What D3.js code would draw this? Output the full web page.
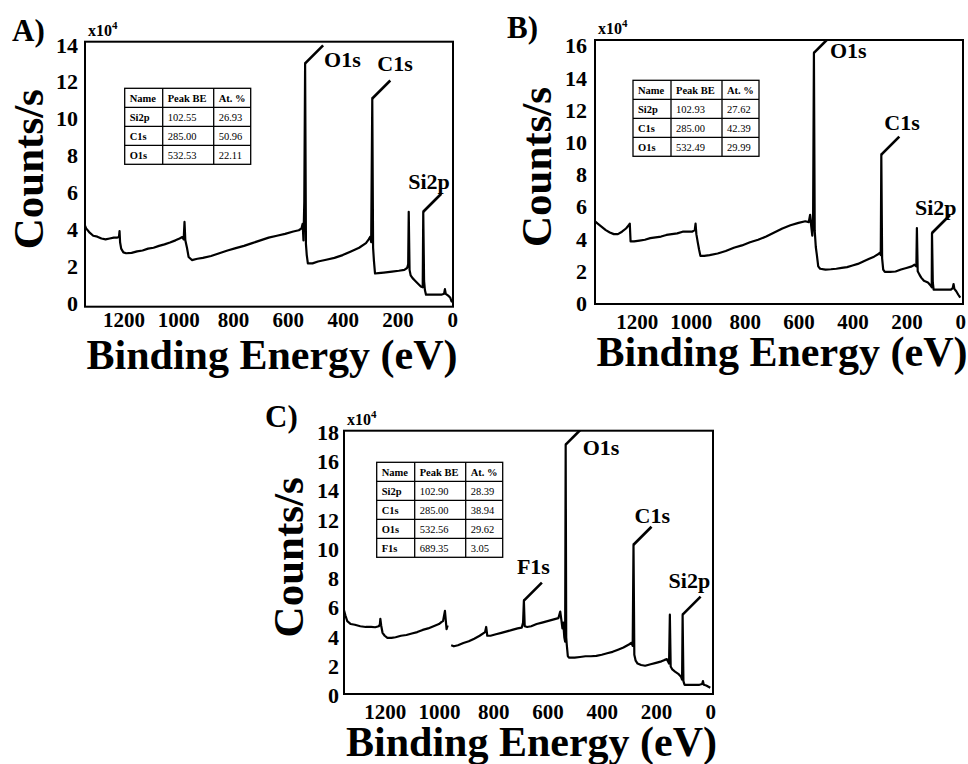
<!DOCTYPE html>
<meta charset="utf-8">
<head>
<style>
  body { margin: 0; background: #fff; }
  svg text { font-family: "Liberation Serif", "Times New Roman", serif; font-weight: bold; fill: #000; }
  .frame { fill: none; stroke: #000; stroke-width: 2; }
  .spectrum { fill: none; stroke: #000; stroke-width: 2.2; stroke-linejoin: round; }
  .leader { stroke: #000; stroke-width: 2.6; }
  .tbl line, .tbl rect { stroke: #000; stroke-width: 1.3; fill: none; }
  .tbl text.val { font-weight: normal; }
</style>
</head>
<body>
<div id="chart"></div>
<script src="https://d3js.org/d3.v7.min.js"></script>
<script>
// ---- data (counts in units of 10^4 counts/s, energy in eV) ----
var energyTicks = [1200, 1000, 800, 600, 400, 200, 0];
var countTicksA = [0, 2, 4, 6, 8, 10, 12, 14];
var countTicksB = [0, 2, 4, 6, 8, 10, 12, 14, 16];
var countTicksC = [0, 2, 4, 6, 8, 10, 12, 14, 16, 18];

var spectrumA = [[1340,4.2],[1336,4.05],[1325,3.85],[1310,3.65],[1295,3.6],[1280,3.5],[1265,3.45],[1250,3.5],
  [1235,3.55],[1222,3.55],[1216,3.6],[1214,3.9],[1212,3.3],[1208,2.95],[1200,2.75],[1190,2.7],[1170,2.72],
  [1150,2.8],[1130,2.85],[1110,2.95],[1090,3.0],[1070,3.1],[1050,3.18],[1030,3.28],[1010,3.4],[995,3.5],
  [985,3.58],[980,3.45],[977,4.4],[974,3.4],[968,3.0],[962,2.5],[950,2.33],[930,2.4],[910,2.45],[880,2.55],
  [850,2.7],[820,2.85],[790,2.98],[760,3.1],[730,3.25],[700,3.4],[670,3.55],[640,3.65],[610,3.75],[580,3.88],
  [560,3.95],[550,4.05],[546,4.3],[543,3.4],[540,5.5],[537,13.0],[534,3.2],[531,2.6],[527,2.15],[510,2.15],
  [490,2.25],[460,2.35],[430,2.45],[400,2.6],[370,2.8],[340,3.0],[315,3.25],[305,3.45],[299,3.6],[296,3.3],
  [292,11.1],[289,3.0],[286,2.3],[282,1.6],[270,1.62],[250,1.65],[220,1.7],[195,1.75],[175,1.8],[165,1.9],
  [161,2.1],[159,4.95],[156,1.8],[152,1.5],[145,1.35],[135,1.2],[125,1.05],[115,0.9],[108,0.85],[106,4.95],
  [103,1.2],[100,0.7],[96,0.45],[80,0.45],[60,0.45],[40,0.45],[30,0.5],[27,0.75],[24,0.5],[15,0.4],[8,0.3],
  [3,0.1],[0,0.05]];

var spectrumB = [[1355,5.1],[1345,4.95],[1330,4.75],[1315,4.55],[1300,4.4],[1285,4.3],[1270,4.3],[1255,4.45],
  [1240,4.65],[1230,4.85],[1226,4.95],[1223,3.85],[1210,3.85],[1190,3.9],[1170,3.95],[1150,4.05],[1130,4.1],
  [1110,4.15],[1090,4.25],[1070,4.3],[1050,4.35],[1030,4.45],[1010,4.45],[995,4.45],[985,4.55],[982,4.95],
  [979,4.3],[974,3.8],[969,3.35],[964,2.95],[950,2.95],[930,3.0],[900,3.1],[870,3.25],[840,3.45],[810,3.6],
  [780,3.8],[750,3.95],[720,4.15],[690,4.4],[660,4.65],[630,4.85],[600,5.0],[575,5.1],[562,5.05],[557,5.5],
  [553,4.8],[549,4.2],[546,5.5],[543,15.56],[540,4.5],[536,3.5],[532,3.0],[527,2.3],[520,2.15],[500,2.1],
  [480,2.12],[460,2.15],[440,2.2],[420,2.25],[400,2.35],[380,2.45],[360,2.6],[340,2.75],[320,2.9],[305,3.05],
  [298,3.15],[295,3.0],[293,9.24],[290,2.8],[286,2.1],[280,1.95],[260,1.95],[240,1.98],[220,2.1],[200,2.2],
  [180,2.3],[170,2.4],[163,2.3],[161,4.68],[158,2.0],[152,1.8],[145,1.6],[135,1.4],[120,1.3],[110,1.1],
  [106,1.0],[105,4.37],[102,1.3],[99,0.85],[90,0.85],[70,0.85],[50,0.85],[35,0.85],[28,0.95],[25,1.2],
  [22,0.9],[15,0.75],[8,0.55],[2,0.4],[0,0.35]];

var spectrumC = [[1351,5.9],[1345,5.5],[1338,5.1],[1325,4.9],[1310,4.85],[1290,4.75],[1270,4.7],[1250,4.7],
  [1235,4.68],[1222,4.75],[1218,4.85],[1216,5.25],[1213,4.8],[1208,4.3],[1200,4.1],[1190,3.95],[1175,3.95],
  [1160,4.0],[1140,4.1],[1120,4.15],[1100,4.25],[1080,4.35],[1060,4.5],[1040,4.6],[1020,4.75],[1000,4.9],
  [990,5.05],[985,5.1],[978,5.8],[972,4.55],[968,4.8],[962,null],
  [955,3.45],[945,3.38],[930,3.45],[910,3.6],[890,3.72],[870,3.9],[850,4.1],[830,4.35],[826,4.7],[822,4.1],
  [810,4.1],[790,4.2],[770,4.3],[750,4.4],[730,4.5],[710,4.6],[695,4.65],[690,5.0],[687,6.5],[684,4.75],
  [675,4.7],[660,4.75],[640,4.9],[620,5.0],[600,5.1],[580,5.2],[560,5.3],[553,5.75],[549,5.2],[545,4.6],
  [542,5.0],[538,4.0],[535,3.7],[533,17.16],[531,4.0],[529,3.5],[525,2.7],[520,2.6],[500,2.6],[480,2.65],
  [460,2.7],[440,2.7],[420,2.72],[400,2.8],[380,2.9],[360,3.0],[340,3.15],[320,3.3],[300,3.5],[290,3.62],
  [286,3.4],[283,10.32],[280,2.8],[275,2.4],[268,2.2],[255,2.1],[240,2.05],[220,2.15],[200,2.25],[180,2.35],
  [168,2.45],[160,2.5],[152,2.2],[149,5.54],[146,2.0],[140,1.8],[130,1.65],[118,1.5],[108,1.3],[104,1.1],
  [102,5.54],[99,1.0],[95,0.75],[80,0.75],[60,0.75],[40,0.75],[30,0.8],[27,1.0],[24,0.75],[15,0.7],[5,0.6],
  [0,0.55]];

// labelled peaks: name, energy, top of the peak
var peaksA = [["O1s",537,13.0],["C1s",292,11.1],["Si2p",106,4.95]];
var peaksB = [["O1s",543,15.56],["C1s",293,9.24],["Si2p",105,4.37]];
var peaksC = [["O1s",533,17.16],["F1s",687,6.5],["C1s",283,10.32],["Si2p",102,5.54]];

var tableHeader = ["Name", "Peak BE", "At. %"];
var tableA = [["Si2p","102.55","26.93"],["C1s","285.00","50.96"],["O1s","532.53","22.11"]];
var tableB = [["Si2p","102.93","27.62"],["C1s","285.00","42.39"],["O1s","532.49","29.99"]];
var tableC = [["Si2p","102.90","28.39"],["C1s","285.00","38.94"],["O1s","532.56","29.62"],["F1s","689.35","3.05"]];

// ---- layout ----
var panels = [
  {key:"A", title:"A)", left:85, top:41.7, w:368, h:265, xDom:[1340,-2.5], yDom:[-0.2,14.18],
   ticks:countTicksA, spec:spectrumA, peaks:peaksA, table:tableA,
   titlePos:[-73,-1], tablePos:[39.7,46.6], xPad:5, yPad:7, ylabX:-42,
   labelOff:{O1s:[19,4], C1s:[5,-27], Si2p:[-15,-23]}},
  {key:"B", title:"B)", left:595, top:40, w:368, h:264, xDom:[1355,-10], yDom:[-0.04,16.36],
   ticks:countTicksB, spec:spectrumB, peaks:peaksB, table:tableB,
   titlePos:[-88,-2], tablePos:[38,40.3], xPad:10, yPad:8, ylabX:-44,
   labelOff:{O1s:[16,5], C1s:[3,-25], Si2p:[-17,-18]}},
  {key:"C", title:"C)", left:344, top:430.7, w:369, h:263.3, xDom:[1350,-10], yDom:[0.12,18.11],
   ticks:countTicksC, spec:spectrumC, peaks:peaksC, table:tableC,
   titlePos:[-79,-4], tablePos:[32.7,31.6], xPad:10, yPad:5, ylabX:-41,
   labelOff:{O1s:[17,10], F1s:[-7,-27], C1s:[1,-22], Si2p:[-14,-27]}}
];
var colW = [38, 51, 37], rowH = 19;

var svg = d3.select("#chart").append("svg")
  .attr("width", 968).attr("height", 764);

panels.forEach(function(p) {
  var g = svg.append("g").attr("transform", "translate(" + p.left + "," + p.top + ")");

  var x = d3.scaleLinear().domain(p.xDom).range([0, p.w]);
  var y = d3.scaleLinear().domain(p.yDom).range([p.h, 0]);

  g.append("clipPath").attr("id", "clip" + p.key)
    .append("rect").attr("width", p.w).attr("height", p.h);

  // axes, labels only
  g.append("g")
    .attr("transform", "translate(0," + p.h + ")")
    .call(d3.axisBottom(x).tickValues(energyTicks).tickSize(0).tickPadding(p.xPad).tickFormat(d3.format("d")))
    .attr("font-size", 21)
    .call(function(s) { s.select(".domain").remove(); });

  g.append("g")
    .call(d3.axisLeft(y).tickValues(p.ticks).tickSize(0).tickPadding(p.yPad).tickFormat(d3.format("d")))
    .attr("font-size", 22)
    .call(function(s) { s.select(".domain").remove(); });

  // spectrum
  var line = d3.line()
    .defined(function(d) { return d[1] != null; })
    .x(function(d) { return x(d[0]); })
    .y(function(d) { return y(d[1]); });
  g.append("path")
    .datum(p.spec)
    .attr("class", "spectrum")
    .attr("clip-path", "url(#clip" + p.key + ")")
    .attr("d", line);

  // peak leaders + names
  g.selectAll(".leader")
    .data(p.peaks)
    .enter().append("line")
      .attr("class", "leader")
      .attr("clip-path", "url(#clip" + p.key + ")")
      .attr("x1", function(d) { return x(d[1]); })
      .attr("y1", function(d) { return y(d[2]); })
      .attr("x2", function(d) { return x(d[1]) + 18; })
      .attr("y2", function(d) { return y(d[2]) - 18; });
  g.selectAll(".peakname")
    .data(p.peaks)
    .enter().append("text")
      .attr("class", "peakname")
      .attr("x", function(d) { return x(d[1]) + p.labelOff[d[0]][0]; })
      .attr("y", function(d) { return y(d[2]) + p.labelOff[d[0]][1]; })
      .attr("font-size", 22)
      .text(function(d) { return d[0]; });

  g.append("rect").attr("class", "frame").attr("width", p.w).attr("height", p.h);

  // inset table
  var rows = [tableHeader].concat(p.table);
  var colX = [0, colW[0], colW[0] + colW[1]];
  var tw = d3.sum(colW), th = rows.length * rowH;
  var tg = g.append("g").attr("class", "tbl")
    .attr("transform", "translate(" + p.tablePos[0] + "," + p.tablePos[1] + ")");
  tg.append("rect").attr("width", tw).attr("height", th);
  tg.selectAll(".vl").data(colX.slice(1)).enter().append("line")
    .attr("x1", function(d) { return d; }).attr("x2", function(d) { return d; })
    .attr("y1", 0).attr("y2", th);
  tg.selectAll(".hl").data(d3.range(1, rows.length)).enter().append("line")
    .attr("x1", 0).attr("x2", tw)
    .attr("y1", function(d) { return d * rowH; }).attr("y2", function(d) { return d * rowH; });
  rows.forEach(function(r, i) {
    r.forEach(function(cell, j) {
      tg.append("text")
        .attr("class", (i === 0 || j === 0) ? "" : "val")
        .attr("x", colX[j] + 5)
        .attr("y", i * rowH + 13.5)
        .attr("font-size", 10.5)
        .text(cell);
    });
  });

  // titles
  g.append("text")
    .attr("x", p.titlePos[0]).attr("y", p.titlePos[1])
    .attr("font-size", 31)
    .text(p.title);

  var mult = g.append("text").attr("x", 3).attr("y", -6).attr("font-size", 16);
  mult.append("tspan").text("x10");
  mult.append("tspan").attr("dy", -7).attr("font-size", 11).text("4");

  g.append("text")
    .attr("transform", "translate(" + p.ylabX + "," + (p.h / 2 - 5) + ") rotate(-90)")
    .attr("text-anchor", "middle")
    .attr("font-size", 43)
    .text("Counts/s");

  g.append("text")
    .attr("x", p.w / 2 + 3).attr("y", p.h + 62)
    .attr("text-anchor", "middle")
    .attr("font-size", 42)
    .text("Binding Energy (eV)");
});
</script>
</body>
